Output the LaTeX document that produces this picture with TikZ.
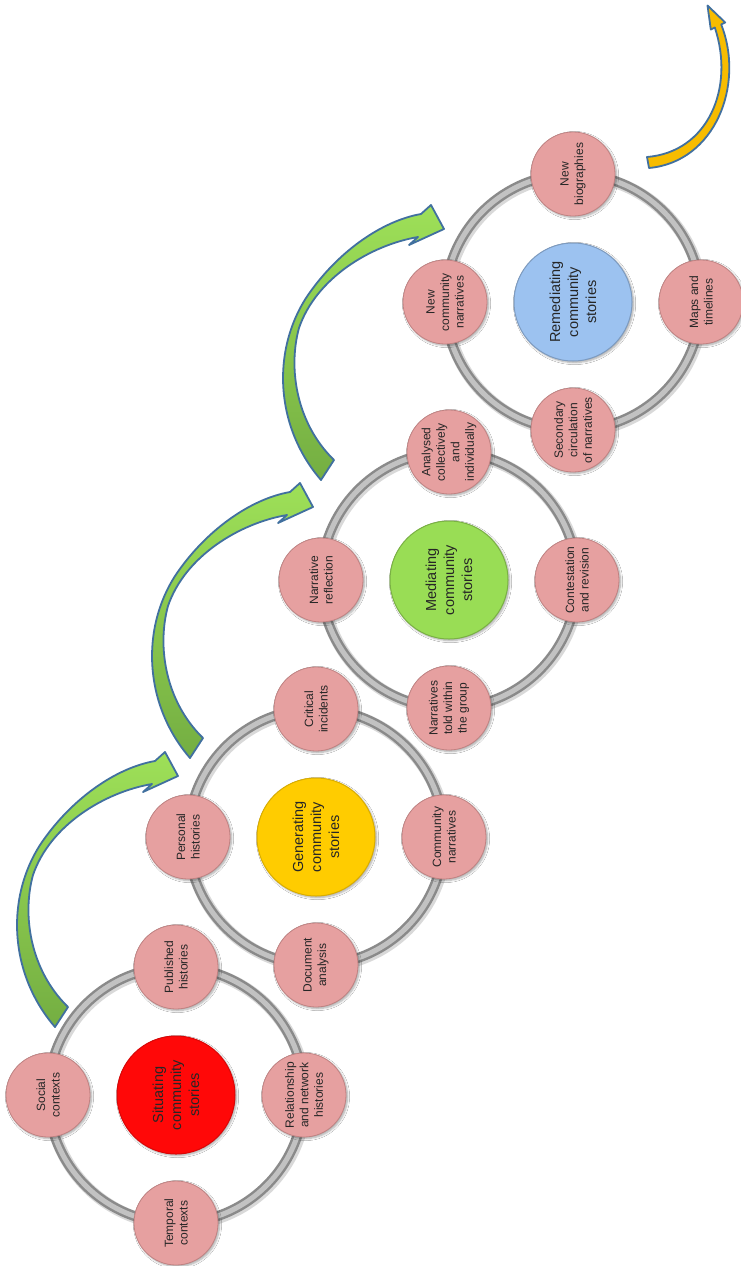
\documentclass[tikz,border=0pt]{standalone}
\usepackage{fontspec}
\setmainfont{Liberation Sans}
\usetikzlibrary{shadows.blur}

\definecolor{pinkfill}{HTML}{E6A0A0}
\definecolor{pinkedge}{HTML}{C08282}
\definecolor{ringdark}{HTML}{8A8A8A}
\definecolor{ringlight}{HTML}{C2C2C2}
\definecolor{txt}{HTML}{262626}
\definecolor{situ}{HTML}{FF0808}
\definecolor{gene}{HTML}{FFCC00}
\definecolor{medi}{HTML}{99DD55}
\definecolor{reme}{HTML}{9CC2F0}
\definecolor{arrowline}{HTML}{41709F}
\definecolor{greenlight}{HTML}{9EE058}
\definecolor{greendark}{HTML}{74AE42}
\definecolor{goldfill}{HTML}{F7BC00}

\tikzset{
  softshadow/.style={blur shadow={shadow xshift=1.5pt, shadow yshift=-1.5pt,
      shadow blur steps=6, shadow opacity=35}},
  sat/.style={circle, minimum size=84pt, inner sep=0pt, fill=pinkfill,
    draw=pinkedge, line width=0.8pt, rotate=90, align=center,
    font=\fontsize{12}{14.5}\selectfont, text=txt, softshadow},
  hub/.style={circle, minimum size=118pt, inner sep=0pt, rotate=90,
    align=center, font=\fontsize{14.5}{18}\selectfont, text=txt,
    line width=1pt, softshadow},
  greenarrow/.style={draw=arrowline, line width=1.8pt, line join=round,
    top color=greenlight, bottom color=greendark},
  goldarrow/.style={draw=arrowline, line width=1.8pt, line join=round,
    fill=goldfill},
  greenarc/.pic={
    \path[greenarrow] (55,1027) .. controls (10,975) and (5,900) .. (40,845)
      .. controls (70,800) and (115,768) .. (155,761) -- (165,752)
      -- (178,776) -- (143,792) -- (152,784)
      .. controls (105,792) and (50,825) .. (33,875)
      .. controls (22,915) and (30,970) .. (68,1007) -- cycle;
  }
}

\begin{document}
\begin{tikzpicture}[x=1pt, y=-1pt]
  \useasboundingbox (0,0) rectangle (741,1266);
  \fill[white] (0,0) rectangle (741,1266);

  % centres of the four cycles
  \coordinate (c1) at (176,1095);
  \coordinate (c2) at (316,837);
  \coordinate (c3) at (449,580);
  \coordinate (c4) at (573,302);

  % grey rings
  \foreach \c in {c1,c2,c3,c4} {
    \draw[line width=12pt, black!15] ([shift={(1.5pt,-1.5pt)}]\c) circle[radius=128pt];
    \draw[line width=10pt, ringdark] (\c) circle[radius=128pt];
    \draw[line width=5pt, ringlight] (\c) circle[radius=128pt];
  }

  % curved block arrows between the cycles
  \pic (a1) at (0,0) {greenarc};
  \pic (a2) at (135,-269) {greenarc};
  \pic (a3) at (266,-547) {greenarc};
  \path[goldarrow] (649,168) .. controls (715,162) and (745,85) .. (721.2,24.5)
    -- (725.2,22.5) -- (707.5,5.5) -- (710.8,29.5) -- (714.8,27.5)
    .. controls (735,88) and (708,152) .. (647,157) -- cycle;

  % cycle 1
  \node[hub, fill=situ, draw=situ!85!black] (h1) at (c1) {Situating\\community\\stories};
  \node[sat] (s1t) at ([yshift=128pt]c1) {Published\\histories};
  \node[sat] (s1l) at ([xshift=-128pt]c1) {Social\\contexts};
  \node[sat] (s1r) at ([xshift=128pt]c1) {Relationship\\and network\\histories};
  \node[sat] (s1b) at ([yshift=-128pt]c1) {Temporal\\contexts};

  % cycle 2
  \node[hub, fill=gene, draw=gene!85!black] (h2) at (c2) {Generating\\community\\stories};
  \node[sat] (s2t) at ([yshift=128pt]c2) {Critical\\incidents};
  \node[sat] (s2l) at ([xshift=-128pt]c2) {Personal\\histories};
  \node[sat] (s2r) at ([xshift=128pt]c2) {Community\\narratives};
  \node[sat] (s2b) at ([yshift=-128pt]c2) {Document\\analysis};

  % cycle 3
  \node[hub, fill=medi, draw=medi!80!black] (h3) at (c3) {Mediating\\community\\stories};
  \node[sat] (s3t) at ([yshift=128pt]c3) {Analysed\\collectively\\and\\individually};
  \node[sat] (s3l) at ([xshift=-128pt]c3) {Narrative\\reflection};
  \node[sat] (s3r) at ([xshift=128pt]c3) {Contestation\\and revision};
  \node[sat] (s3b) at ([yshift=-128pt]c3) {Narratives\\told within\\the group};

  % cycle 4
  \node[hub, fill=reme, draw=reme!80!black] (h4) at (c4) {Remediating\\community\\stories};
  \node[sat] (s4t) at ([yshift=128pt]c4) {New\\biographies};
  \node[sat] (s4l) at ([xshift=-128pt]c4) {New\\community\\narratives};
  \node[sat] (s4r) at ([xshift=128pt]c4) {Maps and\\timelines};
  \node[sat] (s4b) at ([yshift=-128pt]c4) {Secondary\\circulation\\of narratives};
\end{tikzpicture}
\end{document}
